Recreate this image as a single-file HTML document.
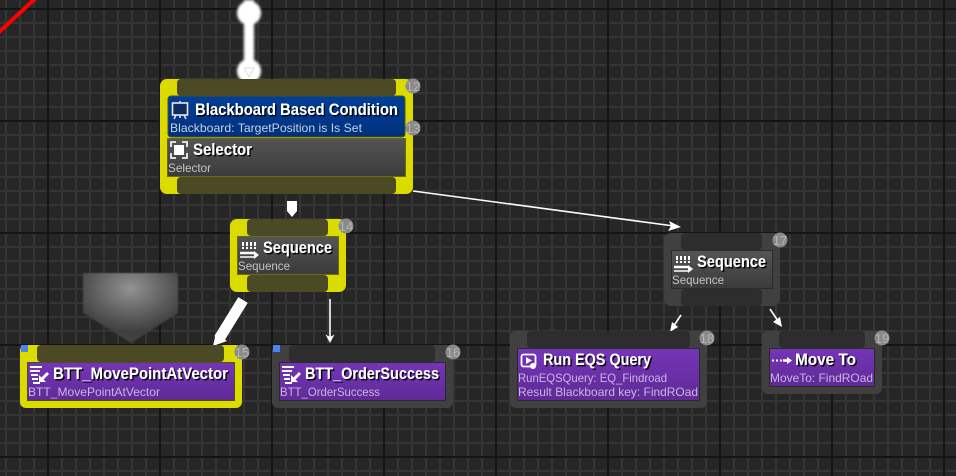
<!DOCTYPE html>
<html><head><meta charset="utf-8"><style>
html,body{margin:0;padding:0;background:#262626;width:956px;height:476px;overflow:hidden}
svg{display:block}
text{font-family:"Liberation Sans",sans-serif}
.t{font-size:16.5px;font-weight:bold;fill:#fff;filter:url(#sh)}
.s{font-size:12px;fill:#c4c4c4}
.p{font-size:12px;fill:#c9b4e2}
.b{font-size:12px;fill:#c5d2e6}
.n{font-size:13px;fill:#b4b4b4;text-anchor:middle}
.c{fill:#8a8a8a}
</style></head><body>
<svg width="956" height="476" viewBox="0 0 956 476" xmlns="http://www.w3.org/2000/svg">
<defs>
<filter id="sh" x="-5%" y="-20%" width="110%" height="150%"><feDropShadow dx="1.500" dy="1.500" stdDeviation="0.2" flood-color="#000" flood-opacity="0.9"/></filter>
<filter id="gl" x="-100%" y="-100%" width="300%" height="300%"><feGaussianBlur stdDeviation="1.200"/></filter>
<filter id="soft" x="-5%" y="-5%" width="110%" height="110%"><feGaussianBlur stdDeviation="0.4"/></filter>
<pattern id="minor" width="14" height="14" patternUnits="userSpaceOnUse" patternTransform="translate(5 8)">
<rect width="14" height="2" fill="#353535"/><rect width="2" height="14" fill="#353535"/>
</pattern>
<pattern id="major" width="112" height="112" patternUnits="userSpaceOnUse" patternTransform="translate(47 8)">
<rect width="112" height="2" fill="#141414"/><rect width="2" height="112" fill="#141414"/>
</pattern>
<linearGradient id="gray" x1="0" y1="0" x2="0" y2="1"><stop offset="0" stop-color="#555"/><stop offset="1" stop-color="#3b3b3b"/></linearGradient>
<linearGradient id="blue" x1="0" y1="0" x2="0" y2="1"><stop offset="0" stop-color="#023f96"/><stop offset="1" stop-color="#00307e"/></linearGradient>
<linearGradient id="pur" x1="0" y1="0" x2="0" y2="1"><stop offset="0" stop-color="#7535b8"/><stop offset="1" stop-color="#5f2a96"/></linearGradient>
<radialGradient id="shield" cx="0.5" cy="0.22" r="0.62"><stop offset="0" stop-color="#929292"/><stop offset="1" stop-color="#3f3f3f"/></radialGradient>
<g id="seq" fill="none" stroke="#fff">
<path d="M3 0V7M7 0V7M11 0V7M15 0V7" stroke-width="2" stroke-dasharray="4 1"/>
<path d="M0 11H15" stroke-width="2.500"/><path d="M0 15H15" stroke-width="1.500"/>
<path d="M14 9L19 13L14 17Z" fill="#fff" stroke="none"/>
</g>
<g id="task" fill="none" stroke="#fff">
<path d="M0 1H12M0 5H10M1 9H8M2 13H8M3 17H10" stroke-width="2"/>
<path d="M18 7L12 13" stroke-width="3"/>
<path d="M9 9V16H16Z" fill="#fff" stroke="none"/>
</g>
</defs>
<rect width="956" height="476" fill="#262626"/>
<rect width="956" height="476" fill="url(#minor)"/>
<rect width="956" height="476" fill="url(#major)"/>
<path d="M-2 33L37 -3" stroke="#f00" stroke-width="4"/>

<!-- top wire -->
<g filter="url(#gl)" fill="#fff"><rect x="244" y="0" width="10" height="78"/><circle cx="249" cy="13" r="12"/><circle cx="249" cy="71" r="12"/></g>
<path d="M244 68H254L249 77Z" fill="#fff" stroke="#ddd"/>

<!-- shield -->
<path d="M83 273H178V313L131 343L83 313Z" fill="url(#shield)" filter="url(#soft)"/>

<!-- connectors -->
<path d="M287 201H297V211L292 217L287 211Z" fill="#fff"/>
<path d="M243 300L219 339" stroke="#fff" stroke-width="11"/>
<path d="M213 346L216 333L227 341Z" fill="#fff"/>
<path d="M330 299V337" stroke="#fff" stroke-width="1.600"/>
<path d="M325.500 334.500L330 343L334.500 334.500L330 337Z" fill="#fff"/>
<path d="M413 191L674 226" stroke="#fff" stroke-width="1.600"/>
<path d="M669 221L681 227L668 231L671 226Z" fill="#fff"/>
<path d="M681 315L673 327" stroke="#fff" stroke-width="1.600"/>
<path d="M670 332L672 322L678 327Z" fill="#fff"/>
<path d="M770 309L778 321" stroke="#fff" stroke-width="1.600"/>
<path d="M782 327L773 322L780 317Z" fill="#fff"/>

<!-- Node 12 selector -->
<rect x="160" y="79" width="253" height="115" rx="7" fill="#dbdb00"/>
<rect x="177" y="79" width="219" height="17" rx="4" fill="#4b4a25"/>
<rect x="177" y="177" width="219" height="17" rx="4" fill="#4b4a25"/>
<rect x="168" y="96" width="237" height="41" rx="3" fill="url(#blue)" stroke="#50501f" stroke-width="1"/>
<rect x="167.500" y="138.500" width="238" height="38" fill="url(#gray)" stroke="#6a6a18" stroke-width="1"/>
<g fill="#0d2c60" stroke="#e8e8e8" stroke-width="1.600"><rect x="172.500" y="103" width="15" height="12"/></g>
<path d="M176 115L174 119M184 115L186 119M180 101V103M180 115V118" stroke="#e8e8e8" stroke-width="1.500"/>
<text x="195" y="115" class="t" textLength="203" lengthAdjust="spacingAndGlyphs">Blackboard Based Condition</text>
<text x="170" y="132" class="b" textLength="192" lengthAdjust="spacingAndGlyphs">Blackboard: TargetPosition is Is Set</text>
<rect x="174" y="145" width="10" height="10" fill="#fff"/>
<path d="M171 147V142H176M182 142H187V147M187 153V158H182M176 158H171V153" fill="none" stroke="#eee" stroke-width="1.800"/>
<text x="193" y="155" class="t" textLength="59" lengthAdjust="spacingAndGlyphs">Selector</text>
<text x="168" y="172" class="s" textLength="43" lengthAdjust="spacingAndGlyphs">Selector</text>
<circle cx="413" cy="86" r="7.500" class="c"/><text x="413" y="91" class="n">12</text>
<circle cx="413" cy="128" r="7.500" class="c"/><text x="413" y="133" class="n">13</text>

<!-- Node 14 -->
<rect x="230" y="219" width="116" height="73" rx="7" fill="#dbdb00"/>
<rect x="247" y="219" width="81" height="17" rx="4" fill="#4b4a25"/>
<rect x="247" y="275" width="81" height="17" rx="4" fill="#4b4a25"/>
<rect x="237.500" y="236.500" width="101" height="38" fill="url(#gray)" stroke="#6a6a18"/>
<use href="#seq" x="240" y="242"/>
<text x="263" y="253" class="t" textLength="69" lengthAdjust="spacingAndGlyphs">Sequence</text>
<text x="238" y="270" class="s" textLength="52" lengthAdjust="spacingAndGlyphs">Sequence</text>
<circle cx="346" cy="226" r="7.500" class="c"/><text x="346" y="231" class="n">14</text>

<!-- Node 15 -->
<rect x="20" y="345" width="222" height="63" rx="6" fill="#dbdb00"/>
<rect x="37" y="345" width="187" height="17" rx="4" fill="#4b4a25"/>
<rect x="27.500" y="362.500" width="207" height="38" fill="url(#pur)" stroke="#50501f"/>
<use href="#task" x="30" y="366"/>
<text x="53" y="379" class="t" textLength="175" lengthAdjust="spacingAndGlyphs">BTT_MovePointAtVector</text>
<text x="28" y="396" class="p" textLength="132" lengthAdjust="spacingAndGlyphs">BTT_MovePointAtVector</text>
<rect x="21" y="345" width="7" height="7" fill="#4a84f0"/>
<circle cx="242" cy="352" r="7.500" class="c"/><text x="242" y="357" class="n">15</text>

<!-- Node 16 -->
<rect x="272" y="345" width="181" height="63" rx="6" fill="#404040"/>
<rect x="289" y="345" width="146" height="17" rx="4" fill="#2d2d2d"/>
<rect x="279.500" y="362.500" width="166" height="38" fill="url(#pur)" stroke="#2a2a2a"/>
<use href="#task" x="282" y="366"/>
<text x="305" y="379" class="t" textLength="134" lengthAdjust="spacingAndGlyphs">BTT_OrderSuccess</text>
<text x="280" y="396" class="p" textLength="100" lengthAdjust="spacingAndGlyphs">BTT_OrderSuccess</text>
<rect x="273" y="345" width="7" height="7" fill="#4a84f0"/>
<circle cx="453" cy="352" r="7.500" class="c"/><text x="453" y="357" class="n">16</text>

<!-- Node 17 -->
<rect x="664" y="233" width="116" height="73" rx="7" fill="#404040"/>
<rect x="681" y="233" width="81" height="17" rx="4" fill="#2d2d2d"/>
<rect x="681" y="289" width="81" height="17" rx="4" fill="#2d2d2d"/>
<rect x="671.500" y="250.500" width="101" height="38" fill="url(#gray)" stroke="#2a2a2a"/>
<use href="#seq" x="674" y="256"/>
<text x="697" y="267" class="t" textLength="69" lengthAdjust="spacingAndGlyphs">Sequence</text>
<text x="672" y="284" class="s" textLength="52" lengthAdjust="spacingAndGlyphs">Sequence</text>
<circle cx="780" cy="240" r="7.500" class="c"/><text x="780" y="245" class="n">17</text>

<!-- Node 18 -->
<rect x="510" y="331" width="197" height="77" rx="6" fill="#404040"/>
<rect x="527" y="331" width="163" height="17" rx="4" fill="#2d2d2d"/>
<rect x="517.500" y="348.500" width="182" height="52" fill="url(#pur)" stroke="#2a2a2a"/>
<rect x="521.500" y="354.500" width="14" height="12" rx="2" fill="none" stroke="#fff" stroke-width="1.800"/>
<path d="M526 357L532 360.500L526 364Z" fill="#fff"/>
<circle cx="533" cy="366" r="3" fill="#fff"/>
<text x="543" y="365" class="t" textLength="108" lengthAdjust="spacingAndGlyphs">Run EQS Query</text>
<text x="518" y="382" class="p" textLength="149" lengthAdjust="spacingAndGlyphs">RunEQSQuery: EQ_Findroad</text>
<text x="518" y="396" class="p" textLength="180" lengthAdjust="spacingAndGlyphs">Result Blackboard key: FindROad</text>
<circle cx="707" cy="338" r="7.500" class="c"/><text x="707" y="343" class="n">18</text>

<!-- Node 19 -->
<rect x="762" y="331" width="120" height="63" rx="6" fill="#404040"/>
<rect x="779" y="331" width="86" height="17" rx="4" fill="#2d2d2d"/>
<rect x="769.500" y="348.500" width="105" height="38" fill="url(#pur)" stroke="#2a2a2a"/>
<path d="M772 360.500h2M776 360.500h2M780 360.500h2" stroke="#fff" stroke-width="2"/>
<path d="M783 360.500H788" stroke="#fff" stroke-width="2.500"/>
<path d="M787 357L792 360.500L787 364Z" fill="#fff"/>
<text x="795" y="365" class="t" textLength="61" lengthAdjust="spacingAndGlyphs">Move To</text>
<text x="770" y="382" class="p" textLength="103" lengthAdjust="spacingAndGlyphs">MoveTo: FindROad</text>
<circle cx="882" cy="338" r="7.500" class="c"/><text x="882" y="343" class="n">19</text>
</svg>
</body></html>
